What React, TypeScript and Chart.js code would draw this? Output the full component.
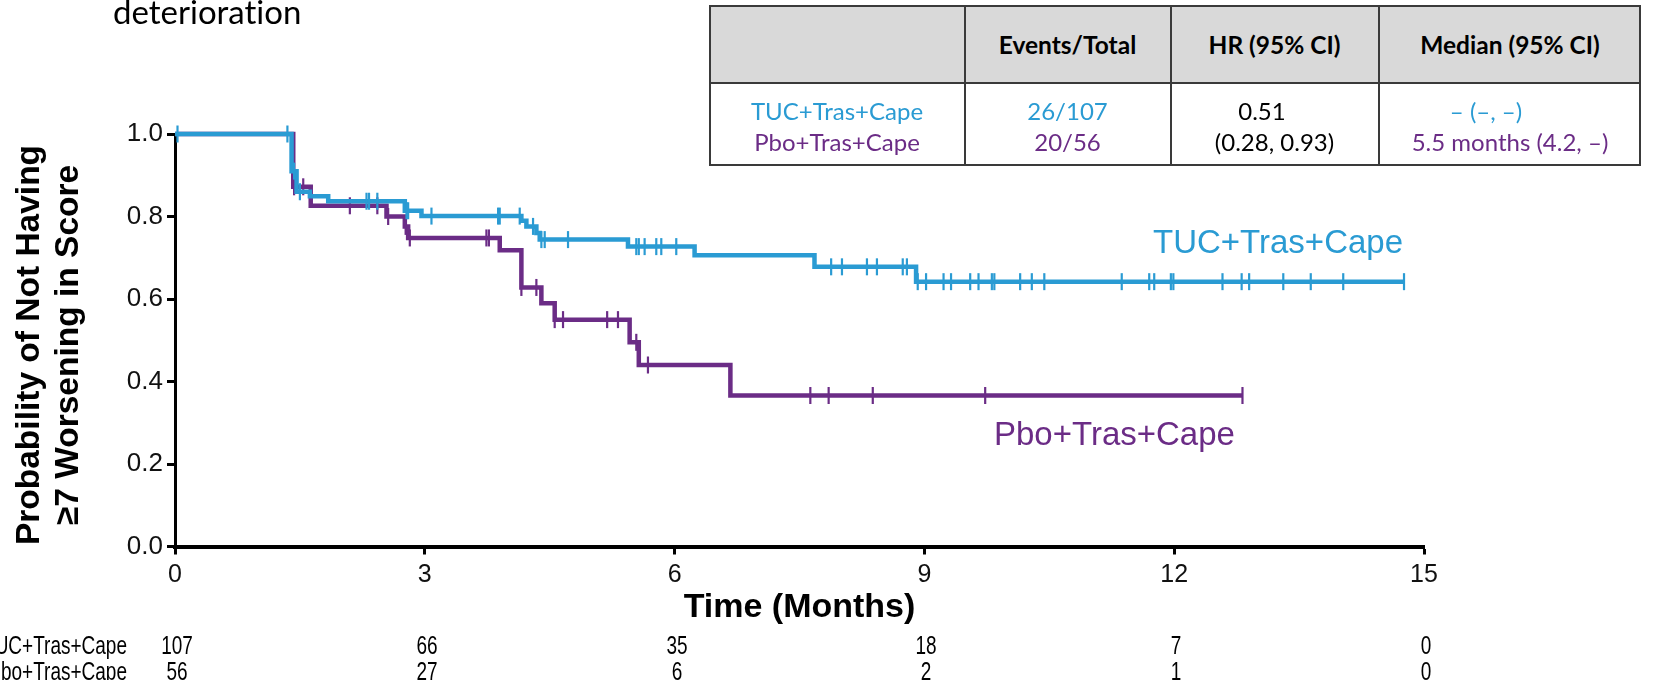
import React, { useEffect, useRef } from "react";
import { Chart, registerables } from "chart.js";

Chart.register(...registerables);

const BLUE = "#2A9BD3";
const PURPLE = "#6B2C86";
const AX_FONT = "'Liberation Sans', Arial, sans-serif";
const CAL_FONT = "Lato, 'Open Sans', sans-serif";

// Kaplan-Meier step points (time in months, survival after event)
const tucTimes = [0, 1.4, 1.46, 1.62, 1.84, 2.76, 2.96, 4.16, 4.22, 4.34, 4.38, 5.44, 6.24, 7.68, 8.9, 14.76];
const tucSurv = [1.0, 0.91, 0.86, 0.849, 0.837, 0.814, 0.801, 0.79, 0.776, 0.76, 0.744, 0.727, 0.706, 0.678, 0.642, 0.642];
const tucCensor = [0.03, 1.35, 1.43, 1.5, 2.3, 2.33, 2.43, 2.78, 2.8, 3.08, 3.88, 3.9, 4.14, 4.3, 4.4, 4.44, 4.72, 5.54, 5.57, 5.64, 5.78, 5.84, 6.02, 7.88, 8.01, 8.31, 8.43, 8.74, 8.79, 8.92, 9.02, 9.23, 9.32, 9.55, 9.65, 9.81, 9.84, 10.15, 10.29, 10.44, 11.37, 11.7, 11.76, 11.96, 11.99, 12.58, 12.81, 12.9, 13.31, 13.64, 14.03, 14.76];

const pboTimes = [0, 1.42, 1.63, 2.54, 2.76, 2.8, 3.9, 4.16, 4.4, 4.56, 5.46, 5.57, 6.67, 12.82];
const pboSurv = [1.0, 0.872, 0.826, 0.8, 0.776, 0.748, 0.718, 0.628, 0.59, 0.55, 0.495, 0.44, 0.366, 0.366];
const pboCensor = [1.43, 1.54, 2.1, 2.43, 2.56, 2.77, 2.82, 3.74, 3.77, 4.16, 4.34, 4.56, 4.66, 5.19, 5.32, 5.54, 5.68, 7.63, 7.85, 8.38, 9.73, 12.82];

const xTickValues = [0, 3, 6, 9, 12, 15];
const riskTuc = [107, 66, 35, 18, 7, 0];
const riskPbo = [56, 27, 6, 2, 1, 0];
const armNames = ["TUC+Tras+Cape", "Pbo+Tras+Cape"];
const yTitleLines = ["Probability of Not Having", "≥7 Worsening in Score"];
const tableHeaders = ["", "Events/Total", "HR (95% CI)", "Median (95% CI)"];
const eventsTotal = ["26/107", "20/56"];
const hrText = ["0.51", "(0.28, 0.93)"];
const medianText = ["– (–, –)", "5.5 months (4.2, –)"];

// geometry
const W = 1660;
const H = 680;
const PLOT_LEFT = 175;
const PLOT_RIGHT = 1424;
const PLOT_TOP = 134;
const PLOT_BOTTOM = 546.5;

function survAt(times: number[], surv: number[], t: number) {
  let v = surv[0];
  for (let i = 0; i < times.length; i++) if (times[i] <= t + 1e-9) v = surv[i];
  return v;
}

function xPix(v: number) {
  return PLOT_LEFT + ((PLOT_RIGHT - PLOT_LEFT) * v) / 15;
}

function Txt(props: { x: number; base: number; size: number; color?: string; font?: string; bold?: boolean; align?: "left" | "center" | "right"; sx?: number; children: any }) {
  const { x, base, size, color = "#000", font = AX_FONT, bold = false, align = "left", sx = 1 } = props;
  const k = font === AX_FONT ? 0.8465 : 0.887;
  const tx = align === "left" ? "0%" : align === "center" ? "-50%" : "-100%";
  const origin = align === "left" ? "left" : align === "center" ? "center" : "right";
  return (
    <div
      style={{
        position: "absolute",
        left: x,
        top: base - k * size,
        fontFamily: font,
        fontSize: size,
        lineHeight: `${size}px`,
        fontWeight: bold ? 700 : 400,
        color,
        whiteSpace: "nowrap",
        fontVariantLigatures: "none",
        fontFeatureSettings: '"liga" 0, "clig" 0',
        transform: `translateX(${tx}) scaleX(${sx})`,
        transformOrigin: origin,
      }}
    >
      {props.children}
    </div>
  );
}

export default function App() {
  const ref = useRef<HTMLCanvasElement | null>(null);

  useEffect(() => {
    if (!ref.current) return;
    const tucLine = tucTimes.map((t, i) => ({ x: t, y: tucSurv[i] }));
    const pboLine = pboTimes.map((t, i) => ({ x: t, y: pboSurv[i] }));
    const tucC = tucCensor.map((t) => ({ x: t, y: survAt(tucTimes, tucSurv, t) }));
    const pboC = pboCensor.map((t) => ({ x: t, y: survAt(pboTimes, pboSurv, t) }));

    const censorDs = (data: any[], color: string) => ({
      data,
      showLine: false,
      pointStyle: "line" as const,
      rotation: 90,
      pointRadius: 8.5,
      pointHoverRadius: 8.5,
      pointBorderWidth: 2.2,
      pointBorderColor: color,
      pointBackgroundColor: color,
      borderColor: color,
      clip: false as any,
    });
    const lineDs = (data: any[], color: string) => ({
      data,
      stepped: "before" as const,
      borderColor: color,
      borderWidth: 4.5,
      pointRadius: 0,
      fill: false,
      clip: false as any,
      borderJoinStyle: "miter" as const,
      borderCapStyle: "butt" as const,
    });

    const chart = new Chart(ref.current, {
      type: "line",
      data: {
        datasets: [
          censorDs(tucC, BLUE),
          lineDs(tucLine, BLUE),
          censorDs(pboC, PURPLE),
          lineDs(pboLine, PURPLE),
        ] as any,
      },
      options: {
        animation: false,
        responsive: false,
        maintainAspectRatio: false,
        layout: { padding: { left: 0, top: PLOT_TOP, right: W - PLOT_RIGHT, bottom: 0 } },
        plugins: { legend: { display: false }, tooltip: { enabled: false } },
        scales: {
          x: {
            type: "linear",
            min: 0,
            max: 15,
            afterFit: (s: any) => {
              s.height = H - PLOT_BOTTOM;
            },
            afterBuildTicks: (s: any) => {
              s.ticks = xTickValues.map((v) => ({ value: v }));
            },
            ticks: {
              font: { family: AX_FONT, size: 25 },
              color: "#111",
              padding: 6,
              autoSkip: false,
              maxRotation: 0,
              callback: (v: any) => String(v),
            },
            grid: { drawOnChartArea: false, drawTicks: true, tickLength: 8, tickWidth: 3, tickColor: "#000" },
            border: { display: true, color: "#000", width: 4 },
            title: {
              display: true,
              text: "Time (Months)",
              color: "#000",
              font: { family: AX_FONT, size: 34, weight: "bold", lineHeight: 1.1 },
              padding: { top: 0, bottom: 53.5 },
            },
          },
          y: {
            type: "linear",
            min: 0,
            max: 1,
            afterFit: (s: any) => {
              s.width = PLOT_LEFT;
            },
            ticks: {
              stepSize: 0.2,
              font: { family: AX_FONT, size: 26 },
              color: "#111",
              padding: 4,
              callback: (v: any) => Number(v).toFixed(1),
            },
            grid: { drawOnChartArea: false, drawTicks: true, tickLength: 8, tickWidth: 3, tickColor: "#000" },
            border: { display: true, color: "#000", width: 3 },
            title: { display: false },
          },
        },
      } as any,
    });
    return () => chart.destroy();
  }, []);

  const colL = [709, 965, 1170.5, 1378.6, 1641];
  const colC = [837, 1067.5, 1274.5, 1510];
  const armColors = [BLUE, PURPLE];

  return (
    <div style={{ position: "absolute", left: 0, top: 0, width: W, height: H, overflow: "hidden", background: "#fff" }}>
      <canvas ref={ref} width={W} height={H} style={{ position: "absolute", left: 0, top: 0, display: "block" }} />

      {/* y-axis title */}
      {yTitleLines.map((t, i) => (
        <div
          key={"yt" + i}
          style={{
            position: "absolute",
            left: 28 + i * 39,
            top: 345,
            fontFamily: AX_FONT,
            fontSize: 33.5,
            lineHeight: "33.5px",
            fontWeight: 700,
            color: "#000",
            whiteSpace: "nowrap",
            transform: "translate(-50%, -50%) rotate(-90deg)",
          }}
        >
          {t}
        </div>
      ))}

      <Txt x={113} base={24} size={33} font={CAL_FONT}>deterioration</Txt>

      {/* summary table */}
      <div style={{ position: "absolute", left: colL[0], top: 5, width: colL[4] - colL[0], height: 161, boxSizing: "border-box", border: "2px solid #3a3a3a" }} />
      <div style={{ position: "absolute", left: colL[0] + 2, top: 7, width: colL[4] - colL[0] - 4, height: 75, background: "#d9d9d9" }} />
      <div style={{ position: "absolute", left: colL[0], top: 82, width: colL[4] - colL[0], height: 2, background: "#3a3a3a" }} />
      {colL.slice(1, 4).map((x, i) => (
        <div key={"v" + i} style={{ position: "absolute", left: x - 1, top: 5, width: 2, height: 161, background: "#3a3a3a" }} />
      ))}
      {tableHeaders.map((h, i) => (
        <Txt key={"h" + i} x={colC[i]} base={55} size={24.5} font={CAL_FONT} bold align="center">{h}</Txt>
      ))}
      {armNames.map((n, r) => (
        <Txt key={"a" + r} x={colC[0]} base={120 + r * 31.6} size={24} font={CAL_FONT} color={armColors[r]} align="center">{n}</Txt>
      ))}
      {eventsTotal.map((n, r) => (
        <Txt key={"e" + r} x={colC[1]} base={120 + r * 31.6} size={24} font={CAL_FONT} color={armColors[r]} align="center">{n}</Txt>
      ))}
      {hrText.map((n, r) => (
        <Txt key={"r" + r} x={r === 0 ? 1262 : colC[2]} base={120 + r * 31.6} size={24} font={CAL_FONT} align="center">{n}</Txt>
      ))}
      {medianText.map((n, r) => (
        <Txt key={"m" + r} x={r === 0 ? 1486 : colC[3]} base={120 + r * 31.6} size={24} font={CAL_FONT} color={armColors[r]} align="center">{n}</Txt>
      ))}

      {/* curve labels */}
      <Txt x={1153} base={253} size={33} color={BLUE}>{armNames[0]}</Txt>
      <Txt x={994} base={445} size={33} color={PURPLE}>{armNames[1]}</Txt>

      {/* numbers at risk */}
      <Txt x={127} base={654} size={25} align="right" sx={0.76}>{armNames[0]}</Txt>
      <Txt x={127} base={680} size={25} align="right" sx={0.76}>{armNames[1]}</Txt>
      {riskTuc.map((n, i) => (
        <Txt key={"t" + i} x={xPix(xTickValues[i]) + 2} base={654} size={25} align="center" sx={0.76}>{n}</Txt>
      ))}
      {riskPbo.map((n, i) => (
        <Txt key={"p" + i} x={xPix(xTickValues[i]) + 2} base={680} size={25} align="center" sx={0.76}>{n}</Txt>
      ))}
    </div>
  );
}
